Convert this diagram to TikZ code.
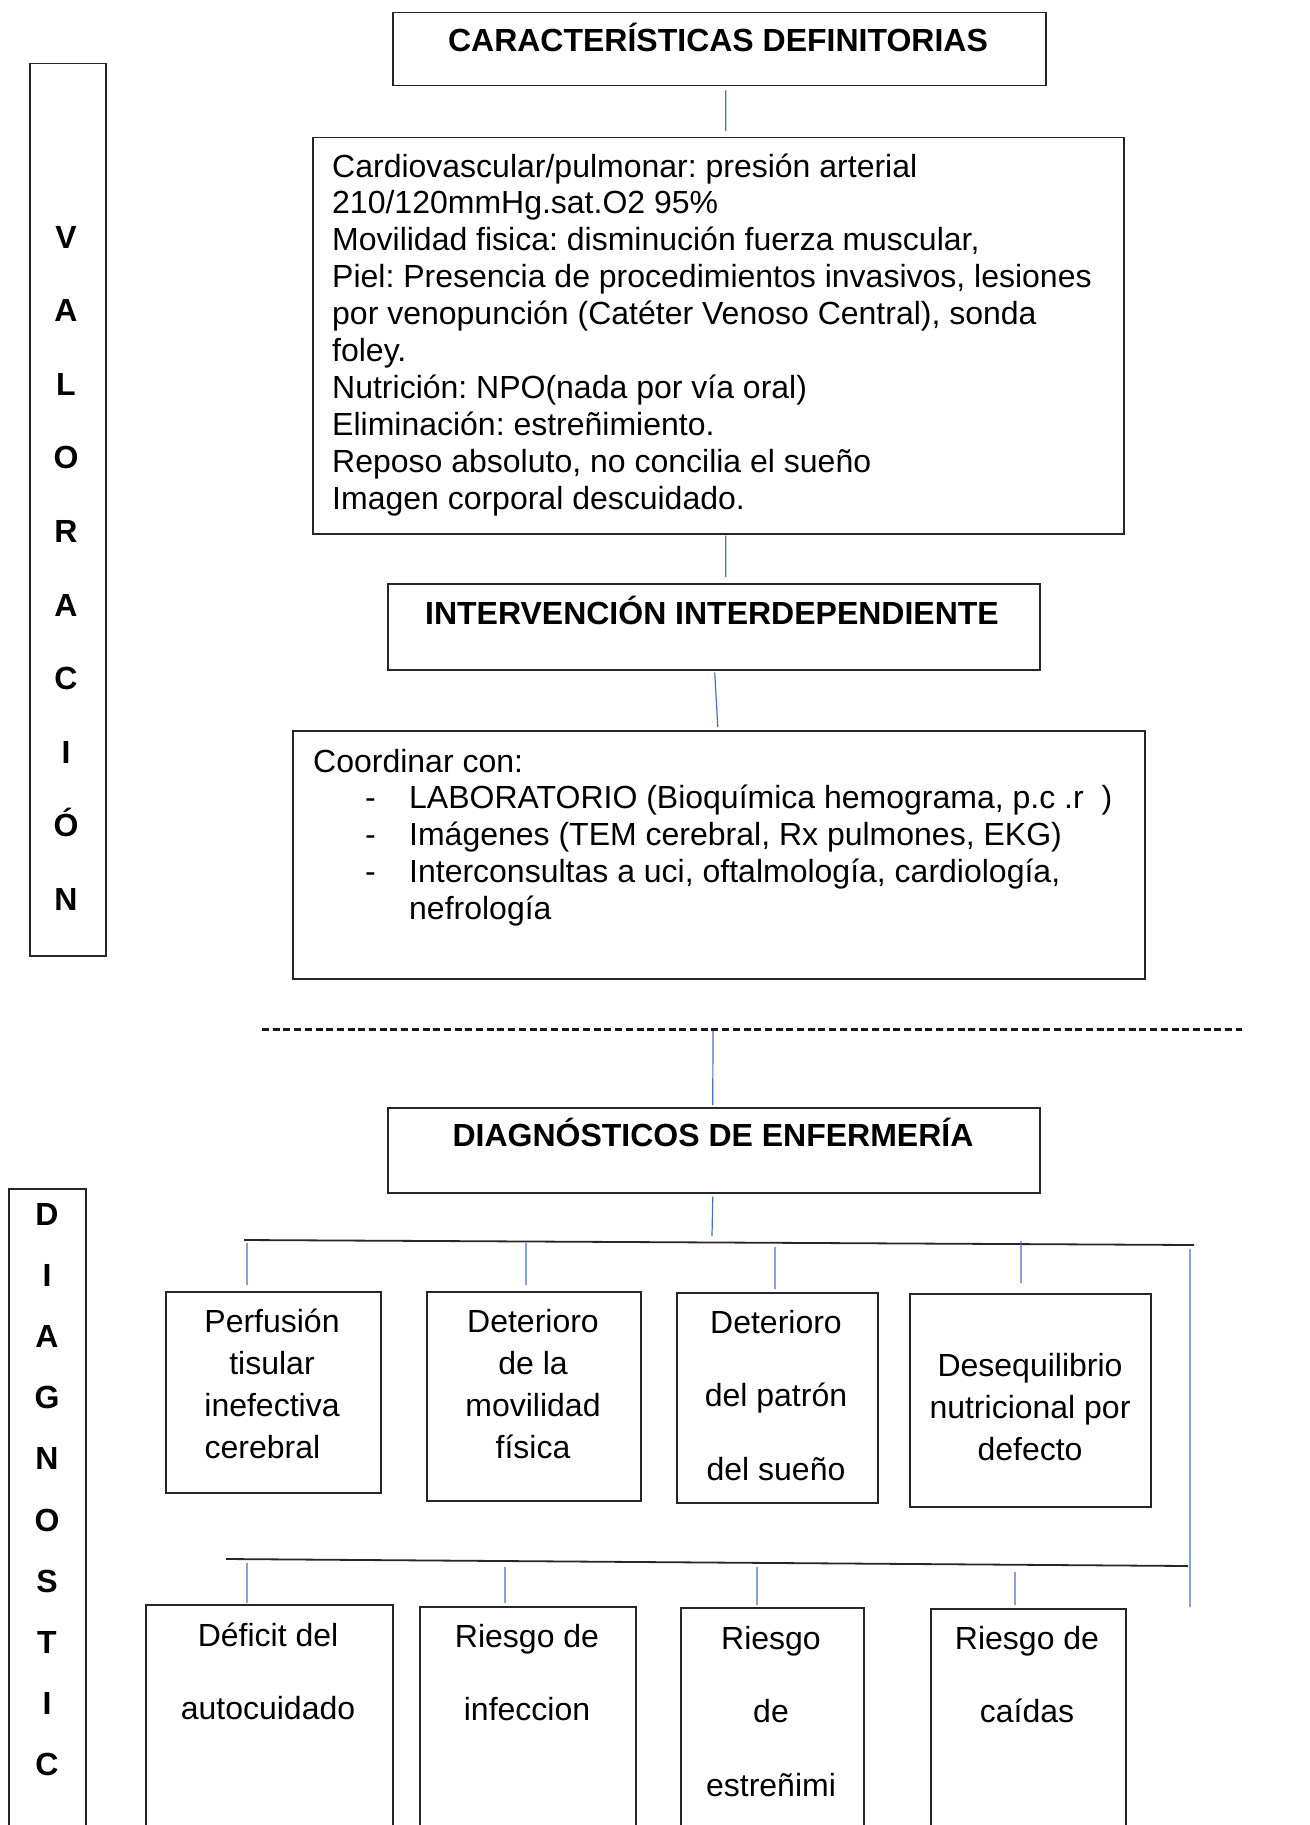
\documentclass[tikz,border=0pt]{standalone}
\usepackage{fontspec}
\setmainfont{Liberation Sans}
\frenchspacing
\usetikzlibrary{positioning}
\definecolor{linkblue}{RGB}{68,114,196}
\tikzset{
x=1pt, y=-1pt, % one unit is one pixel of the page, y grows downwards
box/.style={draw=black!85, line width=1.5pt, anchor=north west, inner sep=0pt}, % frame of every box
boxtext/.style={font=\fontsize{32}{36.9}\selectfont, anchor=base west, align=left, inner sep=0pt}, % text blocks, placed by their last line
title/.style={font=\fontsize{32}{37}\selectfont\bfseries, anchor=base, inner sep=0pt}, % bold titles
diagtext/.style={font=\fontsize{32}{42}\selectfont, anchor=base, align=center, inner sep=0pt}, % diagnoses, narrow lines
widetext/.style={diagtext, font=\fontsize{32}{73.5}\selectfont}, % diagnoses, double spaced
letters/.style={font=\fontsize{32}{73.6}\selectfont\bfseries, anchor=base, align=center, inner sep=0pt}, % vertical words
link/.style={draw=linkblue, line width=1.2pt}, % blue connectors
bus/.style={draw=black!85, line width=1.8pt}, % black branch lines
sep/.style={draw=black!90, line width=3pt, dash pattern=on 7pt off 3.7pt}, % dashed separator
}

\begin{document}
\begin{tikzpicture}
\useasboundingbox (0,0) rectangle (1309,1825);
\fill[white] (0,0) rectangle (1309,1825);
\clip (0,0) rectangle (1309,1825);

% side labels
\node[box, minimum width=76pt, minimum height=892pt] (valor) at (29,63) {};
\node[letters] (valortxt) at (66,910.4) {V\\A\\L\\O\\R\\A\\C\\I\\Ó\\N};
\node[box, minimum width=77pt, minimum height=700pt] (diagside) at (8,1188) {};
\node[letters, font=\fontsize{32}{61.2}\selectfont\bfseries] (diagsidetxt) at (47,1775.8) {D\\I\\A\\G\\N\\O\\S\\T\\I\\C};

% valoracion
\node[box, minimum width=653pt, minimum height=73pt] (carac) at (392,12) {};
\node[title] (caractxt) at (718,52) {CARACTERÍSTICAS DEFINITORIAS};
\node[box, minimum width=811pt, minimum height=396pt] (crit) at (312,137) {};
\node[boxtext] (crittxt) at (332,509.1) {Cardiovascular/pulmonar: presión arterial\\
210/120mmHg.sat.O2 95\%\\
Movilidad fisica: disminución fuerza muscular,\\
Piel: Presencia de procedimientos invasivos, lesiones\\
por venopunción (Catéter Venoso Central), sonda\\
foley.\\
Nutrición: NPO(nada por vía oral)\\
Eliminación: estreñimiento.\\
Reposo absoluto, no concilia el sueño\\
Imagen corporal descuidado.};
\node[box, minimum width=652pt, minimum height=86pt] (interv) at (387,583) {};
\node[title] (intervtxt) at (712,624) {INTERVENCIÓN INTERDEPENDIENTE};
\node[box, minimum width=852pt, minimum height=248pt] (coord) at (292,730) {};
\node[boxtext] (coordtxt) at (313,919.6) {Coordinar con:\\
\hspace*{52pt}\makebox[44pt][l]{-}LABORATORIO (Bioquímica hemograma, p.c .r\ \ )\\
\hspace*{52pt}\makebox[44pt][l]{-}Imágenes (TEM cerebral, Rx pulmones, EKG)\\
\hspace*{52pt}\makebox[44pt][l]{-}Interconsultas a uci, oftalmología, cardiología,\\
\hspace*{96pt}nefrología};

% separator
\coordinate (sepw) at (262,1029);
\coordinate (sepe) at (1242,1029);
\coordinate (sepmid) at (713,1031);
\draw[sep] (sepw) -- (sepe);

% diagnosticos
\node[box, minimum width=652pt, minimum height=85pt] (diag) at (387,1107) {};
\node[title] (diagtxt) at (713,1146) {DIAGNÓSTICOS DE ENFERMERÍA};

\node[box, minimum width=215pt, minimum height=201pt] (perf) at (165,1291) {};
\node[diagtext] (perftxt) at (272,1458) {Perfusión\\tisular\hspace*{19pt}\\inefectiva\hspace*{19pt}\\cerebral\hspace*{19pt}};
\node[box, minimum width=214pt, minimum height=209pt] (movil) at (426,1291) {};
\node[diagtext] (moviltxt) at (533,1458) {Deterioro\\de la\\movilidad\\física};
\node[box, minimum width=201pt, minimum height=210pt] (sueno) at (676,1292) {};
\node[widetext] (suenotxt) at (776,1480) {Deterioro\\del patrón\\del sueño};
\node[box, minimum width=241pt, minimum height=213pt] (nutri) at (909,1293) {};
\node[diagtext] (nutritxt) at (1030,1460) {Desequilibrio\\nutricional por\\defecto};

\node[box, minimum width=247pt, minimum height=300pt] (defic) at (145,1604) {};
\node[widetext] (defictxt) at (268,1719.5) {Déficit del\\autocuidado};
\node[box, minimum width=216pt, minimum height=300pt] (infec) at (419,1606) {};
\node[widetext] (infectxt) at (527,1720.5) {Riesgo de\\infeccion};
\node[box, minimum width=183pt, minimum height=300pt] (estre) at (680,1607) {};
\node[widetext] (estretxt) at (771,1796) {Riesgo\\de\\estreñimi};
\node[box, minimum width=195pt, minimum height=300pt] (caid) at (930,1608) {};
\node[widetext] (caidtxt) at (1027,1722.5) {Riesgo de\\caídas};

% branch lines
\coordinate (bus1w) at (244,1240);
\coordinate (bus1e) at (1194,1245);
\coordinate (bus2w) at (226,1559);
\coordinate (bus2e) at (1188,1566);
\draw[bus] (bus1w) -- (bus1e);
\draw[bus] (bus2w) -- (bus2e);

\coordinate (b1) at (712,1236);
\coordinate (d1) at (247,1243);
\coordinate (d2) at (526,1243);
\coordinate (d3) at (775,1247);
\coordinate (d4) at (1021,1241);
\coordinate (e1) at (247,1563);
\coordinate (e2) at (505,1567);
\coordinate (e3) at (757,1567);
\coordinate (e4) at (1015,1572);
\coordinate (r1) at (1190,1249);
\coordinate (r2) at (1190,1607);

% connectors
\draw[link]
([xshift=6.5pt,yshift=-4pt]carac.south) -- ([xshift=7.5pt,yshift=6pt]crit.north)
([xshift=7.5pt,yshift=-1pt]crit.south) -- ([xshift=12pt,yshift=6pt]interv.north)
([xshift=1pt,yshift=-2pt]interv.south) -- ([xshift=-1pt,yshift=3pt]coord.north)
(sepmid) -- ([xshift=-1pt,yshift=2pt]diag.north)
([xshift=-1pt,yshift=-3pt]diag.south) -- (b1)
(d1) -- ([yshift=6pt]d1 |- perf.north)
(d2) -- ([yshift=6pt]d2 |- movil.north)
(d3) -- ([yshift=3pt]d3 |- sueno.north)
(d4) -- ([yshift=10pt]d4 |- nutri.north)
(e1) -- ([yshift=1pt]e1 |- defic.north)
(e2) -- ([yshift=3pt]e2 |- infec.north)
(e3) -- ([yshift=2pt]e3 |- estre.north)
(e4) -- ([yshift=3pt]e4 |- caid.north)
(r1) -- (r2);
\end{tikzpicture}
\end{document}
